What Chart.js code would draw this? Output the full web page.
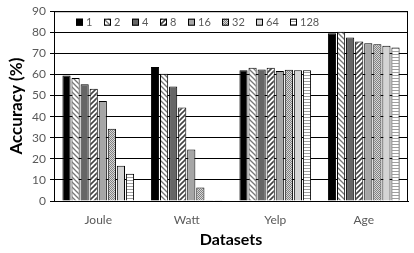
<!DOCTYPE html>
<html lang="en">
  <head>
    <meta charset="UTF-8" />
    <title>Accuracy by Dataset</title>
    <script src="https://cdn.jsdelivr.net/npm/chart.js"></script>
    <style>
      html, body { margin: 0; padding: 0; background: #fff; }
      #chart { display: block; }
    </style>
  </head>
  <body>
    <canvas id="chart" width="414" height="253"></canvas>

    <script>
      const categories = ["Joule", "Watt", "Yelp", "Age"];
      const seriesNames = ["1", "2", "4", "8", "16", "32", "64", "128"];
      const s1 = [59.5, 63.5, 62, 79.5];
      const s2 = [58.3, 60.3, 63.2, 80.2];
      const s4 = [55.4, 54.3, 62.3, 77.5];
      const s8 = [53.2, 44.3, 63.2, 75.6];
      const s16 = [47.4, 24.4, 61.6, 74.8];
      const s32 = [34.3, 6.4, 62.2, 74.3];
      const s64 = [16.7, 0.3, 62, 73.6];
      const s128 = [12.9, 0.3, 62, 72.8];
      const yTicks = [0, 10, 20, 30, 40, 50, 60, 70, 80, 90];

      const allSeries = [s1, s2, s4, s8, s16, s32, s64, s128];
      const labelFont = "Lato, 'Open Sans', sans-serif";

      function makePattern(kind) {
        const c = document.createElement("canvas");
        const g = c.getContext("2d");
        if (kind === "bslash" || kind === "fslash") {
          c.width = 5; c.height = 5;
          g.fillStyle = "#fff";
          g.fillRect(0, 0, 5, 5);
          g.strokeStyle = kind === "bslash" ? "#777" : "#444";
          g.lineWidth = kind === "bslash" ? 1.3 : 1.6;
          g.beginPath();
          if (kind === "bslash") {
            g.moveTo(-1, -1); g.lineTo(6, 6);
            g.moveTo(-1, 4); g.lineTo(1, 6);
            g.moveTo(4, -1); g.lineTo(6, 1);
          } else {
            g.moveTo(-1, 6); g.lineTo(6, -1);
            g.moveTo(-1, 1); g.lineTo(1, -1);
            g.moveTo(4, 6); g.lineTo(6, 4);
          }
          g.stroke();
        } else if (kind === "dots") {
          c.width = 2; c.height = 2;
          g.fillStyle = "#d8d8d8";
          g.fillRect(0, 0, 2, 2);
          g.fillStyle = "#808080";
          g.fillRect(0, 0, 1, 1);
          g.fillRect(1, 1, 1, 1);
        } else if (kind === "hstripe") {
          c.width = 4; c.height = 3;
          g.fillStyle = "#fff";
          g.fillRect(0, 0, 4, 3);
          g.fillStyle = "#a0a0a0";
          g.fillRect(0, 0, 4, 1);
        }
        return g.createPattern(c, "repeat");
      }

      const fills = [
        "#000000",
        makePattern("bslash"),
        "#666666",
        makePattern("fslash"),
        "#a6a6a6",
        makePattern("dots"),
        "#d4d4d4",
        makePattern("hstripe")
      ];

      const datasets = seriesNames.map((name, i) => ({
        label: name,
        data: allSeries[i],
        backgroundColor: fills[i],
        borderColor: "#000",
        borderWidth: 1,
        categoryPercentage: 0.82,
        barPercentage: 0.9
      }));

      // plot-area frame and the small legend strip along the top
      const framePlugin = {
        id: "frame",
        afterDatasetsDraw(chart) {
          const { ctx, chartArea: a } = chart;
          ctx.save();
          ctx.strokeStyle = "#000";
          ctx.lineWidth = 1;
          ctx.strokeRect(a.left + 0.5, a.top + 0.5, a.right - a.left - 1, a.bottom - a.top);

          ctx.font = "11px " + labelFont;
          ctx.textBaseline = "middle";
          let x = a.left + 22;
          const y = a.top + 11;
          chart.data.datasets.forEach((ds) => {
            ctx.fillStyle = ds.backgroundColor;
            ctx.fillRect(x, y - 3.5, 7, 7);
            ctx.strokeStyle = "#000";
            ctx.strokeRect(x + 0.5, y - 3, 6, 6);
            ctx.fillStyle = "#595959";
            ctx.fillText(ds.label, x + 10, y + 0.5);
            x += 22 + 6 * ds.label.length;
          });
          ctx.restore();
        }
      };

      new Chart(document.getElementById("chart"), {
        type: "bar",
        data: { labels: categories, datasets: datasets },
        plugins: [framePlugin],
        options: {
          responsive: false,
          animation: false,
          layout: { padding: { left: 0, right: 6, top: 5, bottom: 0 } },
          plugins: { legend: { display: false }, tooltip: { enabled: false } },
          scales: {
            x: {
              grid: { display: false },
              border: { color: "#000" },
              ticks: { color: "#595959", font: { size: 12, family: labelFont }, padding: 4 },
              title: { display: true, text: "Datasets", color: "#000", font: { size: 16, weight: "bold", family: labelFont }, padding: { top: 8 } },
              afterFit: (s) => { s.height = 52; }
            },
            y: {
              min: 0,
              max: 90,
              afterBuildTicks: (s) => { s.ticks = yTicks.map((v) => ({ value: v })); },
              grid: { color: "#000", lineWidth: 1, tickLength: 4 },
              border: { color: "#000" },
              ticks: { color: "#595959", font: { size: 12, family: labelFont }, padding: 4 },
              title: { display: true, text: "Accuracy (%)", color: "#000", font: { size: 17, weight: "bold", family: labelFont }, padding: { top: 6, bottom: 2 } },
              afterFit: (s) => { s.width = 54; }
            }
          }
        }
      });
    </script>
  </body>
</html>
